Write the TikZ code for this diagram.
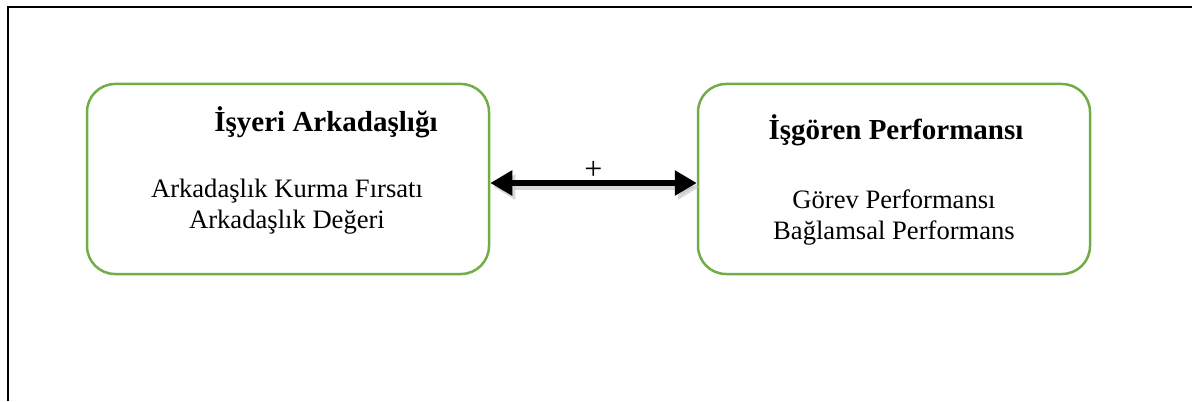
\documentclass[tikz,border=0pt]{standalone}
\usepackage{fontspec}
\setmainfont{Liberation Serif}
\usepackage{xcolor}
\usetikzlibrary{positioning,arrows.meta}
\definecolor{boxgreen}{HTML}{70AD47}
\tikzset{
  varbox/.style={draw=boxgreen, line width=1.25pt, rounded corners=14pt, minimum height=95pt},
  boxtitle/.style={anchor=base, font=\fontsize{14.5}{17}\selectfont\bfseries},
  boxitems/.style={anchor=base, align=center, font=\fontsize{13.3}{15.5}\selectfont},
  linkarrow/.style={line width=3pt, {Triangle[length=11pt,width=12pt]}-{Triangle[length=11pt,width=12pt]}}
}

\begin{document}
\begin{tikzpicture}[x=0.5pt, y=-0.5pt]
  \useasboundingbox (0,0) rectangle (1192,401);
  \draw[line width=1pt] (8,401) -- (8,7) -- (1192,7);
  \node[varbox, minimum width=201pt] (work) at (288,179) {};
  \node[varbox, minimum width=196pt] (perf) at (894,179) {};
  \node[boxtitle] (worktitle) at (326,132) {İşyeri Arkadaşlığı};
  \node[boxitems] (workitems) at (287,228) {Arkadaşlık Kurma Fırsatı\\Arkadaşlık Değeri};
  \node[boxtitle] (perftitle) at (896,139) {İşgören Performansı};
  \node[boxitems] (perfitems) at (894,239) {Görev Performansı\\Bağlamsal Performans};
  % shadow under the arrow
  \draw[linkarrow, black!25, opacity=0.6] ([xshift=1.5pt, yshift=-4pt]work.east) -- ([xshift=1.5pt, yshift=-4pt]perf.west);
  \draw[linkarrow] ([yshift=-2pt]work.east) -- node[anchor=base, yshift=2pt, inner sep=0pt, font=\fontsize{16}{18}\selectfont] (sign) {+} ([yshift=-2pt]perf.west);
\end{tikzpicture}
\end{document}
